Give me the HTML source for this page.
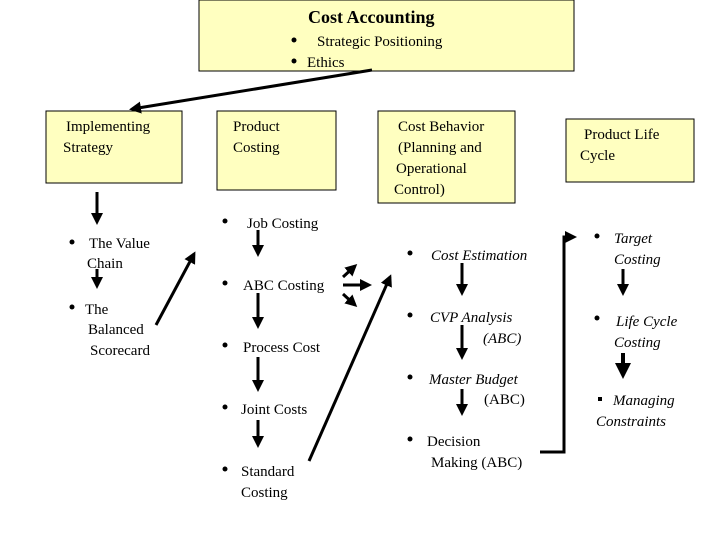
<!DOCTYPE html>
<html><head><style>html,body{margin:0;padding:0;background:#fff}svg{display:block}</style></head><body>
<svg width="720" height="540" xmlns="http://www.w3.org/2000/svg" font-family="Liberation Serif, serif" font-size="15">
<defs>
<marker id="a" markerWidth="4" markerHeight="4" refX="3" refY="2" orient="auto" markerUnits="strokeWidth"><path d="M0,0 L4,2 L0,4 z" fill="#000"/></marker>
</defs>
<g fill="#ffffc0" stroke="#000" stroke-width="1">
<rect x="199" y="0" width="375" height="71"/>
<rect x="46" y="111" width="136" height="72"/>
<rect x="217" y="111" width="119" height="79"/>
<rect x="378" y="111" width="137" height="92"/>
<rect x="566" y="119" width="128" height="63"/>
</g>
<text x="308" y="23" font-size="18" font-weight="bold">Cost Accounting</text>
<circle cx="294" cy="40" r="2.5"/><text x="317" y="46">Strategic Positioning</text>
<circle cx="294" cy="61" r="2.5"/><text x="307" y="67">Ethics</text>
<text x="66" y="131">Implementing</text><text x="63" y="152">Strategy</text>
<text x="233" y="131">Product</text><text x="233" y="152">Costing</text>
<text x="398" y="131">Cost Behavior</text><text x="398" y="152">(Planning and</text><text x="396" y="173">Operational</text><text x="394" y="194">Control)</text>
<text x="584" y="139">Product Life</text><text x="580" y="160">Cycle</text>
<g stroke="#000" stroke-width="3" fill="none" marker-end="url(#a)">
<line x1="372" y1="70" x2="132" y2="109"/>
<line x1="97" y1="192" x2="97" y2="222"/>
<line x1="97" y1="269" x2="97" y2="286"/>
<line x1="156" y1="325" x2="194" y2="254"/>
<line x1="258" y1="230" x2="258" y2="254"/>
<line x1="258" y1="293" x2="258" y2="326"/>
<line x1="258" y1="357" x2="258" y2="389"/>
<line x1="258" y1="420" x2="258" y2="445"/>
<line x1="309" y1="461" x2="390" y2="277"/>
<line x1="343" y1="277" x2="355" y2="266"/>
<line x1="343" y1="285" x2="369" y2="285"/>
<line x1="343" y1="294" x2="355" y2="305"/>
<line x1="462" y1="263" x2="462" y2="293"/>
<line x1="462" y1="325" x2="462" y2="357"/>
<line x1="462" y1="389" x2="462" y2="413"/>
<polyline points="540,452 564,452 564,237 574,237"/>
<line x1="623" y1="269" x2="623" y2="293"/>
<line x1="623" y1="353" x2="623" y2="375" stroke-width="4"/>
</g>
<g>
<circle cx="72" cy="242" r="2.5"/><text x="89" y="248">The Value</text><text x="87" y="268">Chain</text>
<circle cx="72" cy="307" r="2.5"/><text x="85" y="314">The</text><text x="88" y="334">Balanced</text><text x="90" y="355">Scorecard</text>
<circle cx="225" cy="221" r="2.5"/><text x="247" y="228">Job Costing</text>
<circle cx="225" cy="283" r="2.5"/><text x="243" y="290">ABC Costing</text>
<circle cx="225" cy="345" r="2.5"/><text x="243" y="352">Process  Cost</text>
<circle cx="225" cy="407" r="2.5"/><text x="241" y="414">Joint Costs</text>
<circle cx="225" cy="469" r="2.5"/><text x="241" y="476">Standard</text><text x="241" y="497">Costing</text>
<g font-style="italic">
<circle cx="410" cy="253" r="2.5"/><text x="431" y="260">Cost Estimation</text>
<circle cx="410" cy="315" r="2.5"/><text x="430" y="322">CVP Analysis</text><text x="483" y="343">(ABC)</text>
<circle cx="410" cy="377" r="2.5"/><text x="429" y="384">Master Budget</text>
<circle cx="597" cy="236" r="2.5"/><text x="614" y="243">Target</text><text x="614" y="264">Costing</text>
<circle cx="597" cy="318" r="2.5"/><text x="616" y="326">Life Cycle</text><text x="614" y="347">Costing</text>
<rect x="598" y="397" width="4" height="4"/><text x="613" y="405">Managing</text><text x="596" y="426">Constraints</text>
</g>
<text x="484" y="404">(ABC)</text>
<circle cx="410" cy="439" r="2.5"/><text x="427" y="446">Decision</text><text x="431" y="467">Making  (ABC)</text>
</g>
</svg>
</body></html>
